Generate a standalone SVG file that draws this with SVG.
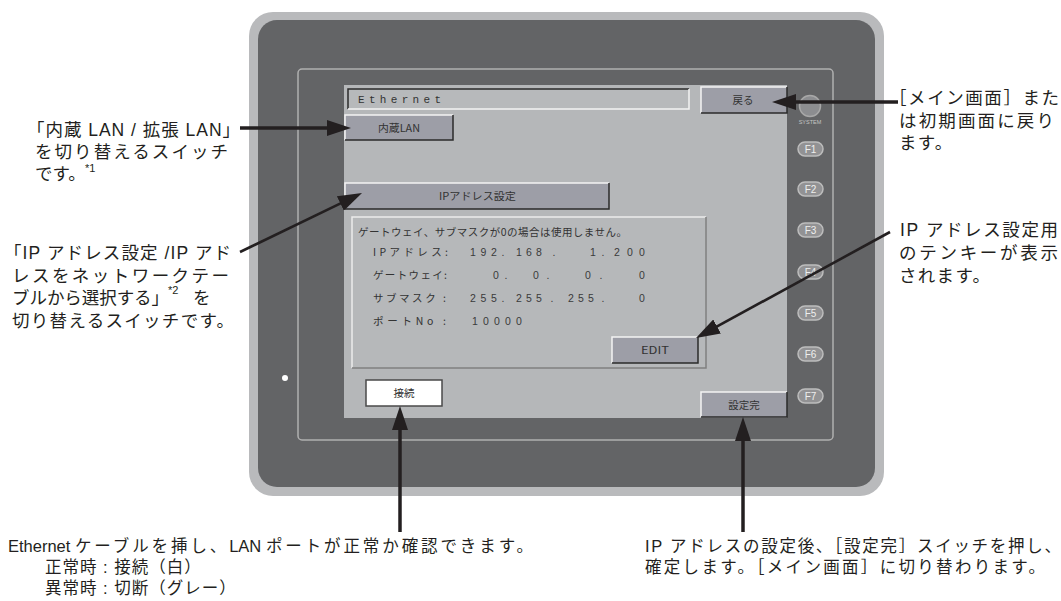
<svg xmlns="http://www.w3.org/2000/svg" width="1061" height="601" viewBox="0 0 1061 601">
<style>
.lbl{font-family:"Liberation Sans","Noto Sans CJK JP",sans-serif;font-size:17.5px;fill:#231f20}
.bot{font-size:16.5px}
.sup{font-size:11px}
.ui{font-family:"Noto Sans CJK JP","Liberation Sans",sans-serif;font-size:10.5px;fill:#333}
.num{font-family:"Liberation Sans",sans-serif;font-size:10.5px;fill:#3a3a3a}
.mono{font-family:"Liberation Mono",monospace;font-size:11px;fill:#333}
.face{fill:#9d9ea7}
.hl{fill:none;stroke:#f4f4f4;stroke-width:1.5}
.sh{fill:none;stroke:#2b2b2b;stroke-width:1.5}
.fk{fill:#929294;stroke:#bdbdbd;stroke-width:1.5}
.fkt{font-family:"Liberation Sans",sans-serif;font-size:10px;fill:#eeeeee;text-anchor:middle}
.arr{fill:none;stroke:#231f20;stroke-width:3.5;marker-end:url(#ah)}
.arr.thin{stroke-width:2.6}
.cj{letter-spacing:2.9px}
</style>
<defs>
<marker id="ah" markerUnits="userSpaceOnUse" markerWidth="24" markerHeight="16" viewBox="0 0 24 16" refX="14" refY="8" orient="auto">
<path d="M0,0 L24,8 L0,16 z" fill="#231f20"/>
</marker>
</defs>
<rect width="1061" height="601" fill="#ffffff"/>

<g id="device">
<rect x="249" y="12" width="635" height="484" rx="24" fill="#b9babc"/>
<rect x="258" y="20" width="617" height="467" rx="19" fill="#636466"/>
<rect x="298" y="69" width="535" height="371" rx="4" fill="none" stroke="#b0b0b0" stroke-width="1.5"/>
<circle cx="285" cy="378" r="3" fill="#ffffff"/>
</g>

<g id="screen">
<rect x="344" y="85" width="443" height="333" fill="#b5b7b9"/>
</g>

<g id="title-box">
<rect x="348" y="89" width="341" height="20" fill="#b7b9bb"/>
<path class="sh" d="M348,109 L348,89 L689,89" stroke="#5a5a5a"/>
<path class="hl" d="M689,89 L689,109 L348,109"/>
<text class="mono" x="358" y="103" textLength="83" lengthAdjust="spacing">Ethernet</text>
</g>

<g id="btn-back">
<rect class="face" x="701" y="87" width="86" height="26"/>
<path class="hl" d="M701,113 L701,87 L787,87"/>
<path class="sh" d="M787,87 L787,113 L701,113"/>
<text class="ui" x="743" y="104" text-anchor="middle" font-size="11">戻る</text>
</g>

<g id="btn-lan">
<rect class="face" x="345" y="115" width="108" height="25"/>
<path class="hl" d="M345,140 L345,115 L453,115"/>
<path class="sh" d="M453,115 L453,140 L345,140"/>
<text class="ui" x="378" y="132" textLength="42" lengthAdjust="spacingAndGlyphs">内蔵LAN</text>
</g>

<g id="btn-ip">
<rect class="face" x="345" y="183" width="264" height="26"/>
<path class="hl" d="M345,209 L345,183 L609,183"/>
<path class="sh" d="M609,183 L609,209 L345,209"/>
<text class="ui" x="439" y="200" textLength="77" lengthAdjust="spacingAndGlyphs">IPアドレス設定</text>
</g>

<g id="panel">
<rect x="352" y="217" width="354" height="151" fill="#b6b8ba"/>
<path d="M352,368 L352,217 L706,217" fill="none" stroke="#ececec" stroke-width="1.5"/>
<path d="M706,217 L706,368 L352,368" fill="none" stroke="#808080" stroke-width="1.5"/>
<text class="ui" x="358" y="236" textLength="269" lengthAdjust="spacing">ゲートウェイ、サブマスクが0の場合は使用しません。</text>
<text class="ui" x="373" y="256" textLength="75" lengthAdjust="spacing">IPアドレス:</text>
<text class="ui" x="373" y="279" textLength="74" lengthAdjust="spacing">ゲートウェイ:</text>
<text class="ui" x="373" y="302" textLength="73" lengthAdjust="spacing">サブマスク :</text>
<text class="ui" x="373" y="325" textLength="73" lengthAdjust="spacing">ポートNo :</text>
<text class="num" y="256" text-anchor="middle" x="473 483.5 494 503 519 529 539 554 593 603 617 630 642">192.168.1.200</text>
<text class="num" y="279" text-anchor="middle" x="496 506 536 548 588 601 642">0.0.0.0</text>
<text class="num" y="302" text-anchor="middle" x="473 483.5 494 503 519 529 539 552 571 581 591 603 642">255.255.255.0</text>
<text class="num" y="325" text-anchor="middle" x="475 486 497 508 519">10000</text>
</g>

<g id="btn-edit">
<rect class="face" x="612" y="337" width="86" height="26"/>
<path class="hl" d="M612,363 L612,337 L698,337"/>
<path class="sh" d="M698,337 L698,363 L612,363"/>
<text class="ui" x="641" y="354" textLength="28" lengthAdjust="spacingAndGlyphs">EDIT</text>
</g>

<g id="btn-connect">
<rect x="366" y="380" width="76" height="26" fill="#ffffff" stroke="#4a4a4a" stroke-width="1.5"/>
<text class="ui" x="404" y="397" text-anchor="middle" font-size="11">接続</text>
</g>

<g id="btn-done">
<rect class="face" x="701" y="392" width="86" height="25"/>
<path class="hl" d="M701,417 L701,392 L787,392"/>
<path class="sh" d="M787,392 L787,417 L701,417"/>
<text class="ui" x="744" y="409" text-anchor="middle" font-size="11">設定完</text>
</g>

<g id="side-keys">
<circle cx="810" cy="106" r="10.5" fill="#8c8d90" stroke="#a8a8a8" stroke-width="1.5"/>
<text x="810" y="124" font-family="Liberation Sans, sans-serif" font-size="5.5" fill="#c4c4c4" text-anchor="middle">SYSTEM</text>
<rect class="fk" x="798" y="142" width="25" height="14" rx="7"/><text class="fkt" x="810.5" y="152.5">F1</text>
<rect class="fk" x="798" y="182" width="25" height="14" rx="7"/><text class="fkt" x="810.5" y="192.5">F2</text>
<rect class="fk" x="798" y="223" width="25" height="14" rx="7"/><text class="fkt" x="810.5" y="233.5">F3</text>
<rect class="fk" x="798" y="265" width="25" height="14" rx="7"/><text class="fkt" x="810.5" y="275.5">F4</text>
<rect class="fk" x="798" y="306" width="25" height="14" rx="7"/><text class="fkt" x="810.5" y="316.5">F5</text>
<rect class="fk" x="798" y="347" width="25" height="14" rx="7"/><text class="fkt" x="810.5" y="357.5">F6</text>
<rect class="fk" x="798" y="389" width="25" height="14" rx="7"/><text class="fkt" x="810.5" y="399.5">F7</text>
</g>

<g id="connectors">
<path class="arr" d="M240,128 L341,128"/>
<path class="arr thin" d="M240,252 L353,197.4"/>
<path class="arr" d="M898,102 L782,102"/>
<path class="arr thin" d="M890,232 L704.8,333.2"/>
<path class="arr" d="M400,532 L400,416"/>
<path class="arr" d="M743,532 L743,427"/>
</g>

<g id="label-lan">
<text class="lbl" x="27" y="136" textLength="213" lengthAdjust="spacing">「内蔵 LAN / 拡張 LAN」</text>
<text class="lbl" x="35" y="158" textLength="193" lengthAdjust="spacing">を切り替えるスイッチ</text>
<text class="lbl" x="35" y="180">です。</text>
<text class="lbl sup" x="85" y="172">*1</text>
</g>

<g id="label-ip">
<text class="lbl" x="4" y="259" textLength="227" lengthAdjust="spacing">「IP アドレス設定 /IP アド</text>
<text class="lbl" x="12" y="282" textLength="217" lengthAdjust="spacing">レスをネットワークテー</text>
<text class="lbl" x="12" y="304" textLength="157" lengthAdjust="spacing">ブルから選択する」</text>
<text class="lbl sup" x="168" y="294">*2</text>
<text class="lbl" x="193" y="304">を</text>
<text class="lbl" x="12" y="327" textLength="222" lengthAdjust="spacing">切り替えるスイッチです。</text>
</g>

<g id="label-back">
<text class="lbl" x="889" y="104" textLength="170" lengthAdjust="spacing">［メイン画面］また</text>
<text class="lbl" x="899" y="127" textLength="155" lengthAdjust="spacing">は初期画面に戻り</text>
<text class="lbl" x="899" y="149" letter-spacing="1.3">ます。</text>
</g>

<g id="label-edit">
<text class="lbl" x="900" y="236" textLength="158" lengthAdjust="spacing">IP アドレス設定用</text>
<text class="lbl" x="899" y="259" textLength="159" lengthAdjust="spacing">のテンキーが表示</text>
<text class="lbl" x="899" y="282" letter-spacing="1.3">されます。</text>
</g>

<g id="label-connect">
<text class="lbl bot" x="8" y="552">Ethernet <tspan class="cj">ケーブルを挿し、</tspan>LAN <tspan class="cj">ポートが正常か確認できます。</tspan></text>
<text class="lbl bot" x="45" y="573" letter-spacing="1">正常時 : 接続（白）</text>
<text class="lbl bot" x="45" y="594" letter-spacing="1">異常時 : 切断（グレー）</text>
</g>

<g id="label-done">
<text class="lbl bot" x="645" y="552" textLength="416" lengthAdjust="spacing">IP アドレスの設定後、［設定完］スイッチを押し、</text>
<text class="lbl bot" x="645" y="573" textLength="400" lengthAdjust="spacing">確定します。［メイン画面］に切り替わります。</text>
</g>
</svg>
